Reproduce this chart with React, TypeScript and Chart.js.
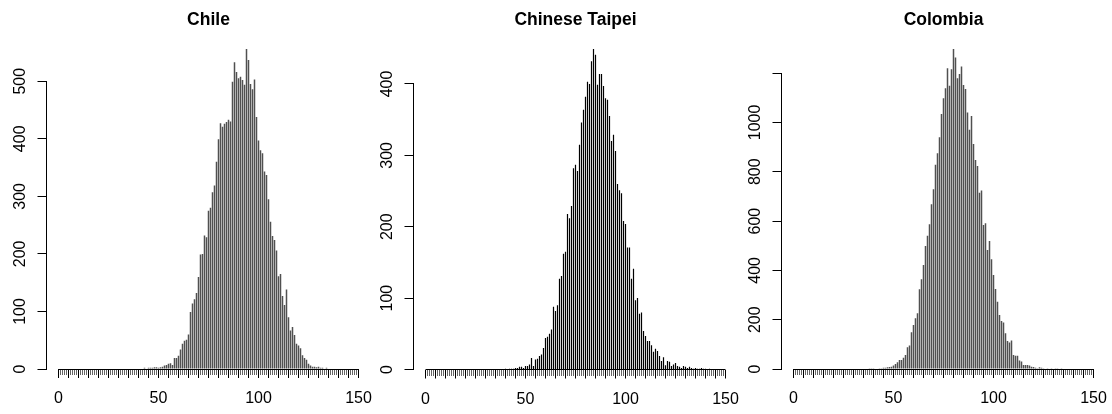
import React, { useEffect, useRef } from 'react';
import { Chart, registerables } from 'chart.js';

Chart.register(...registerables);

// ---------------- data ----------------
const chileStart = 38;
const chileCounts = [
  1, 0, 1, 1, 1, 2, 1, 2, 2, 2, 3, 3, 2, 3, 4, 6, 7, 9, 10, 7,
  19, 19, 23, 34, 44, 49, 51, 60, 99, 114, 121, 132, 160, 199, 200, 232, 229, 275, 280, 307,
  319, 360, 399, 427, 421, 426, 429, 433, 430, 499, 533, 516, 505, 508, 502, 494, 556, 537, 495, 486,
  503, 438, 397, 380, 375, 343, 337, 295, 256, 231, 224, 206, 161, 165, 127, 111, 138, 90, 67, 73,
  59, 44, 41, 36, 24, 19, 16, 9, 6, 4, 4, 3, 4, 2, 2, 1, 2, 1, 1, 0,
  1, 0, 1,
];

const taipeiStart = 40;
const taipeiCounts = [
  1, 0, 1, 1, 1, 2, 2, 4, 4, 2, 5, 5, 7, 16, 5, 14, 15, 19, 21, 30,
  44, 46, 50, 56, 88, 82, 90, 127, 131, 162, 165, 218, 212, 229, 282, 287, 278, 315, 346, 364,
  382, 403, 400, 432, 449, 441, 399, 414, 414, 397, 380, 378, 355, 320, 329, 306, 260, 251, 247, 208,
  204, 171, 171, 127, 141, 97, 100, 78, 80, 54, 47, 40, 40, 34, 25, 29, 26, 19, 12, 17,
  6, 12, 11, 5, 7, 9, 5, 4, 2, 5, 4, 2, 4, 2, 1, 2, 1, 1, 2, 1,
  1, 0, 1,
];

const colombiaStart = 38;
const colombiaCounts = [
  1, 1, 1, 2, 2, 3, 3, 5, 5, 7, 8, 9, 14, 20, 27, 37, 37, 46, 57, 88,
  95, 149, 178, 206, 226, 323, 364, 422, 499, 541, 587, 668, 729, 828, 875, 940, 1034, 1098, 1139, 1220,
  1149, 1216, 1298, 1264, 1179, 1197, 1227, 1152, 1136, 1040, 970, 1026, 913, 848, 823, 715, 724, 584, 591, 483,
  519, 445, 381, 325, 273, 219, 195, 189, 145, 114, 107, 116, 57, 54, 54, 34, 30, 16, 16, 16,
  14, 9, 8, 5, 3, 7, 5, 3, 2, 3, 2, 1, 2, 1, 1, 0, 1,
];

const xMajorTicks = [
  0, 5, 10, 15, 20, 25, 30, 35, 40, 45, 50, 55, 60, 65, 70, 75,
  80, 85, 90, 95, 100, 105, 110, 115, 120, 125, 130, 135, 140, 145, 150,
];
const xTickLabels = ['0', '50', '100', '150'];
const xLabelValues = [0, 50, 100, 150];

const chileYTicks = [0, 100, 200, 300, 400, 500];
const chileYLabels = ['0', '100', '200', '300', '400', '500'];
const taipeiYTicks = [0, 100, 200, 300, 400];
const taipeiYLabels = ['0', '100', '200', '300', '400'];
const colombiaYTicks = [0, 200, 400, 600, 800, 1000, 1200];
const colombiaYLabels = ['0', '200', '400', '600', '800', '1000', ''];

// ---------------- style ----------------
const FONT = "'Liberation Sans', Arial, Helvetica, sans-serif";
const CANVAS_W = 372;
const CANVAS_H = 414;

type Spec = {
  title: string;
  start: number;
  counts: number[];
  yTicks: number[];
  yLabels: string[];
  color: string;
  barWidth: number;
  left: number;
  yAxisWidth: number;
  padRight: number;
  bottom: number;
  labelPad: number;
};

const panels: Spec[] = [
  {
    title: 'Chile', start: chileStart, counts: chileCounts, yTicks: chileYTicks, yLabels: chileYLabels,
    color: '#505050', barWidth: 1.5, left: 0, yAxisWidth: 46.5, padRight: 1.5, bottom: 369, labelPad: 3.5,
  },
  {
    title: 'Chinese Taipei', start: taipeiStart, counts: taipeiCounts, yTicks: taipeiYTicks, yLabels: taipeiYLabels,
    color: '#000000', barWidth: 1.2, left: 370, yAxisWidth: 43.5, padRight: 4.5, bottom: 369.5, labelPad: 4,
  },
  {
    title: 'Colombia', start: colombiaStart, counts: colombiaCounts, yTicks: colombiaYTicks, yLabels: colombiaYLabels,
    color: '#505050', barWidth: 1.5, left: 740, yAxisWidth: 41.5, padRight: 6.5, bottom: 369, labelPad: -1,
  },
];

const align = (p: number) => Math.round(p - 0.5) + 0.5;

const rAxisLines = {
  id: 'rAxisLines',
  afterDraw(chart: any) {
    const { ctx } = chart;
    const x = chart.scales.x;
    const y = chart.scales.y;
    const yTicks: number[] = chart.options.plugins.rAxisLines.yTicks;
    ctx.save();
    ctx.strokeStyle = '#000';
    ctx.lineWidth = 1;
    ctx.beginPath();
    const y0 = align(y.getPixelForValue(0));
    ctx.moveTo(x.getPixelForValue(xMajorTicks[0]), y0);
    ctx.lineTo(x.getPixelForValue(xMajorTicks[xMajorTicks.length - 1]), y0);
    const xl = align(chart.chartArea.left);
    ctx.moveTo(xl, y.getPixelForValue(yTicks[0]));
    ctx.lineTo(xl, y.getPixelForValue(yTicks[yTicks.length - 1]));
    ctx.stroke();
    ctx.restore();
  },
};

function Panel({ spec }: { spec: Spec }) {
  const ref = useRef<HTMLCanvasElement>(null);
  useEffect(() => {
    if (!ref.current) return;
    const data = spec.counts.map((c, i) => ({ x: spec.start + i, y: c }));
    const ymax = Math.max(...spec.counts);
    const axisH = CANVAS_H - spec.bottom;
    const chart = new Chart(ref.current, {
      type: 'bar',
      data: {
        datasets: [
          {
            data,
            backgroundColor: spec.color,
            borderWidth: 0,
            inflateAmount: 0,
            barThickness: spec.barWidth,
          } as any,
        ],
      },
      options: {
        animation: false,
        responsive: false,
        events: [],
        layout: { padding: { top: 0, left: 0, right: spec.padRight, bottom: 0 } },
        plugins: {
          legend: { display: false },
          tooltip: { enabled: false },
          title: {
            display: true,
            text: spec.title,
            color: '#000',
            fullSize: false,
            font: { family: FONT, size: 17.5, weight: 'bold', lineHeight: 1.2 },
            padding: { top: 9.5, bottom: 18.5 },
          },
          rAxisLines: { yTicks: spec.yTicks },
        } as any,
        scales: {
          x: {
            type: 'linear',
            min: -6,
            max: 156,
            offset: false,
            border: { display: false },
            grid: {
              display: true,
              drawOnChartArea: false,
              drawTicks: true,
              tickLength: 9,
              color: '#000',
              offset: false,
            },
            ticks: {
              autoSkip: false,
              maxRotation: 0,
              minRotation: 0,
              padding: 11,
              color: '#000',
              font: { family: FONT, size: 16 },
              callback: (v: any) => {
                const k = xLabelValues.indexOf(Number(v));
                return k >= 0 ? xTickLabels[k] : '';
              },
            },
            afterBuildTicks: (s: any) => {
              s.ticks = xMajorTicks.map((v) => ({ value: v }));
            },
            afterFit: (s: any) => {
              s.height = axisH;
              s.paddingLeft = 0;
              s.paddingRight = 0;
            },
          },
          xMinor: {
            type: 'linear',
            axis: 'x',
            position: { y: 0 },
            min: -6,
            max: 156,
            offset: false,
            border: { display: false },
            grid: {
              display: true,
              drawOnChartArea: false,
              drawTicks: true,
              tickLength: 6,
              color: '#666666',
              offset: false,
            },
            ticks: {
              stepSize: 1,
              autoSkip: false,
              maxRotation: 0,
              display: false,
            },
            afterBuildTicks: (s: any) => {
              s.ticks = s.ticks.filter(
                (t: any) => t.value >= xMajorTicks[0] && t.value <= xMajorTicks[xMajorTicks.length - 1] && Number.isInteger(t.value) && t.value % 5 !== 0,
              );
            },
            afterFit: (s: any) => {
              s.paddingLeft = 0;
              s.paddingRight = 0;
            },
          },
          y: {
            type: 'linear',
            min: 0,
            max: ymax,
            border: { display: false },
            grid: {
              display: true,
              drawOnChartArea: false,
              drawTicks: true,
              tickLength: 9,
              color: '#000',
            },
            ticks: {
              autoSkip: false,
              minRotation: 90,
              maxRotation: 90,
              crossAlign: 'center',
              padding: spec.labelPad,
              color: '#000',
              font: { family: FONT, size: 16 },
              callback: (_v: any, i: number) => spec.yLabels[i],
            },
            afterBuildTicks: (s: any) => {
              s.ticks = spec.yTicks.map((v) => ({ value: v }));
            },
            afterFit: (s: any) => {
              s.width = spec.yAxisWidth;
              s.paddingTop = 0;
              s.paddingBottom = 0;
            },
          },
        } as any,
      },
      plugins: [rAxisLines],
    });
    return () => chart.destroy();
  }, [spec]);
  return (
    <canvas
      ref={ref}
      width={CANVAS_W}
      height={CANVAS_H}
      style={{ position: 'absolute', left: spec.left, top: 0, width: CANVAS_W, height: CANVAS_H, display: 'block' }}
    />
  );
}

export default function App() {
  return (
    <div style={{ position: 'fixed', left: 0, top: 0, width: 1112, height: 414, background: '#fff', overflow: 'hidden' }}>
      {panels.map((p) => (
        <Panel key={p.title} spec={p} />
      ))}
    </div>
  );
}
